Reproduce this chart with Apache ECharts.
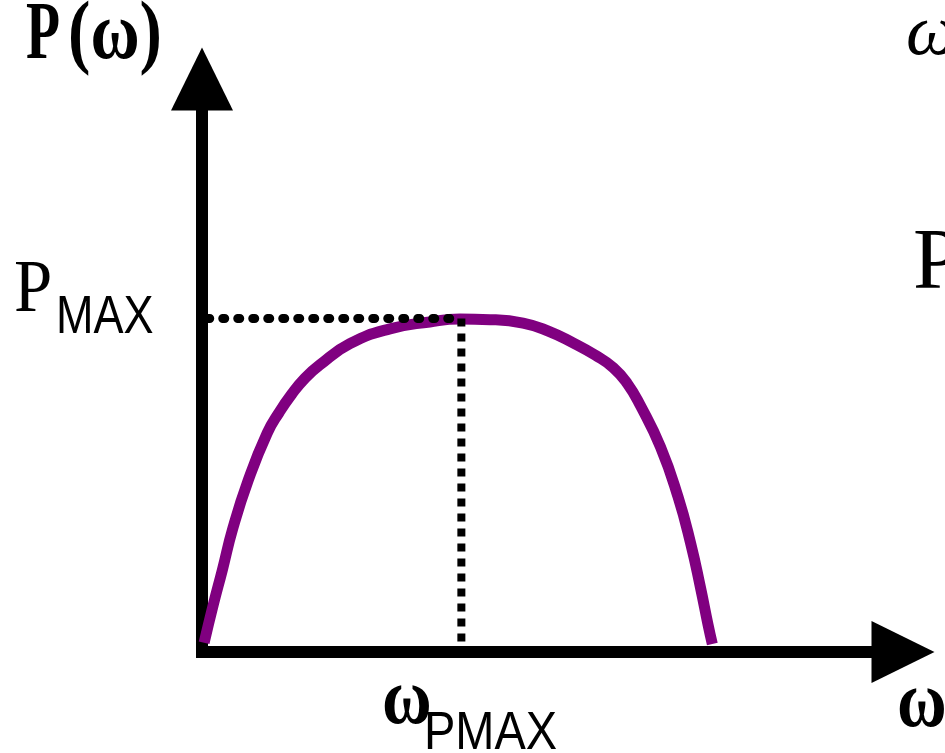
<!DOCTYPE html>
<html>
	<head>
		<meta charset="utf-8">
		<script src="https://cdn.jsdelivr.net/npm/echarts@6/dist/echarts.min.js"></script>
		<style>
			html, body { margin:0; padding:0; background:#fff; }
		</style>
	</head>
	<body>
		<div id="main" style="width:945px;height:753px;"></div>
		<script>
			// power curve P(w), arbitrary units
			var curveX = [0.3, 1.6, 2.9, 4.4, 6.6, 9.3, 11.0, 12.8, 14.7, 16.8, 21.1, 26.8, 32.5, 36.8, 41.1, 45.8, 49.4, 53.0, 56.1, 58.7, 60.7, 62.5, 65.4, 67.9, 69.7, 71.1, 72.2, 72.8];
			var curveY = [1.6, 8.2, 14.3, 21.6, 30.0, 38.2, 41.8, 45.0, 47.8, 50.1, 53.8, 56.4, 57.6, 58.1, 58.0, 57.4, 56.0, 53.9, 51.8, 49.6, 46.8, 43.1, 35.8, 27.1, 19.0, 11.3, 4.7, 1.4];
			var pMax = 58.2;
			var wPMax = 37.0;
			var guideStartX = -5.6;
			var axisMax = [100, 100];

			var curve = [];
			for (var i = 0; i < curveX.length; i++) {
				curve.push([curveX[i], curveY[i]]);
			}

			function label(text, left, baseline, family, size, weight, style, sx) {
				return {
					type: 'text',
					x: left,
					y: baseline - 0.34 * size,
					scaleX: sx,
					style: {
						text: text,
						x: 0,
						y: 0,
						fill: '#000',
						fontFamily: family,
						fontSize: size,
						fontWeight: weight,
						fontStyle: style,
						align: 'left',
						verticalAlign: 'middle'
					}
				};
			}

			var axisLine = {
				show: true,
				symbol: ['none', 'triangle'],
				symbolSize: [62, 63],
				lineStyle: { color: '#000', width: 12, cap: 'square' }
			};

			option = {
				animation: false,
				backgroundColor: '#fff',
				grid: { left: 202, right: 42, top: 79, bottom: 101 },
				xAxis: {
					type: 'value',
					min: 0,
					max: axisMax[0],
					axisLine: axisLine,
					axisTick: { show: false },
					axisLabel: { show: false },
					splitLine: { show: false }
				},
				yAxis: {
					type: 'value',
					min: 0,
					max: axisMax[1],
					axisLine: axisLine,
					axisTick: { show: false },
					axisLabel: { show: false },
					splitLine: { show: false }
				},
				series: [
					{
						type: 'line',
						data: curve,
						smooth: 0.5,
						symbol: 'none',
						z: 2,
						lineStyle: { color: '#800080', width: 11, join: 'round' }
					},
					{
						type: 'line',
						data: [[guideStartX, pMax], [wPMax, pMax]],
						symbol: 'none',
						clip: false,
						z: 3,
						lineStyle: { color: '#000', width: 9, type: [2, 13], cap: 'round' }
					},
					{
						type: 'line',
						data: [[wPMax, pMax], [wPMax, 0]],
						symbol: 'none',
						clip: false,
						z: 3,
						lineStyle: { color: '#000', width: 8, type: [8, 7] }
					}
				],
				graphic: [
					label('P', 26, 65, 'Liberation Serif', 82, 'bold', 'normal', 0.68),
					label('(\u03c9)', 68, 65, 'Liberation Serif', 82, 'bold', 'normal', 0.82),
					label('P', 14, 317, 'Liberation Serif', 74, 'normal', 'normal', 0.93),
					label('MAX', 56, 336, 'Liberation Sans', 53, 'normal', 'normal', 0.85),
					label('\u03c9', 382, 730, 'Liberation Serif', 80, 'bold', 'normal', 0.85),
					label('PMAX', 424, 752, 'Liberation Sans', 54, 'normal', 'normal', 0.87),
					label('\u03c9', 897, 733, 'Liberation Serif', 80, 'bold', 'normal', 0.85),
					label('\u03c9', 906, 60, 'Liberation Serif', 72, 'normal', 'italic', 1),
					label('P', 913, 295, 'Liberation Serif', 86, 'normal', 'normal', 1)
				]
			};
			var myChart = echarts.init(document.getElementById('main'));
			myChart.setOption(option, true);
		</script>
	</body>
</html>
